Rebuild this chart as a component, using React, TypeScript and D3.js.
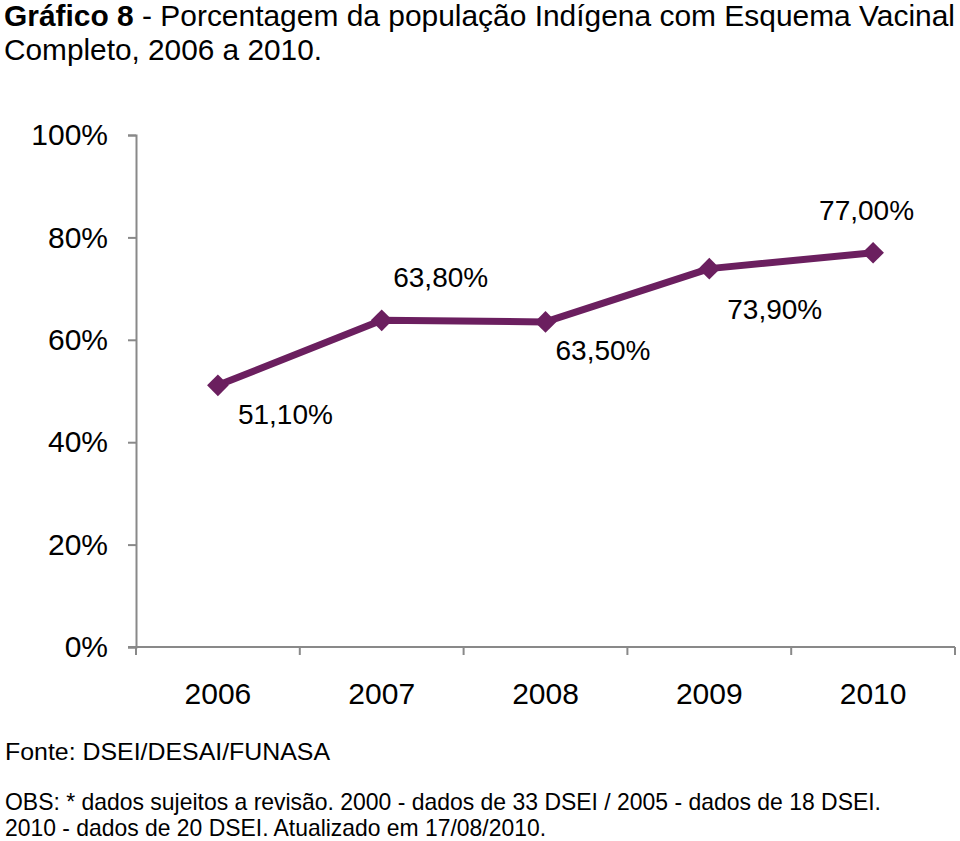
import React, { useEffect, useRef } from 'react';
import * as d3 from 'd3';

const years = ['2006', '2007', '2008', '2009', '2010'];
const coverage = [51.1, 63.8, 63.5, 73.9, 77.0];
const valueLabels = ['51,10%', '63,80%', '63,50%', '73,90%', '77,00%'];
const yTicks = [0, 20, 40, 60, 80, 100];

// label offsets relative to the point (dx, dy) and anchor
const labelPos = [
  { dx: 20, dy: 39, anchor: 'start' },
  { dx: 59, dy: -33, anchor: 'middle' },
  { dx: 10, dy: 38, anchor: 'start' },
  { dx: 18, dy: 50, anchor: 'start' },
  { dx: -54, dy: -33, anchor: 'start' },
];

const PURPLE = '#6b1f5f';
const SANS = '"Liberation Sans", Arial, sans-serif';

const App = () => {
  const svgRef = useRef<SVGSVGElement>(null);

  useEffect(() => {
    const svg = d3.select(svgRef.current);
    svg.selectAll('*').remove();

    const left = 136;
    const right = 955;
    const top = 135;
    const bottom = 647;

    const x = d3.scaleBand().domain(years).range([left, right]);
    const y = d3.scaleLinear().domain([0, 100]).range([bottom, top]);

    // title
    const title = svg.append('text')
      .attr('x', 4)
      .attr('y', 26)
      .attr('textLength', 951)
      .attr('lengthAdjust', 'spacingAndGlyphs')
      .style('font-family', SANS)
      .style('font-size', '30px')
      .attr('fill', '#000');
    title.append('tspan').style('font-weight', 'bold').text('Gráfico 8');
    title.append('tspan').text(' - Porcentagem da população Indígena com Esquema Vacinal');
    svg.append('text')
      .attr('x', 4)
      .attr('y', 60)
      .attr('textLength', 318)
      .attr('lengthAdjust', 'spacingAndGlyphs')
      .style('font-family', SANS)
      .style('font-size', '30px')
      .text('Completo, 2006 a 2010.');

    // y axis
    const gy = svg.append('g')
      .attr('transform', `translate(${left},0)`)
      .call(d3.axisLeft(y).tickValues(yTicks).tickSize(8).tickPadding(20).tickFormat(d => `${d}%`));
    gy.selectAll('text')
      .style('font-family', SANS)
      .style('font-size', '30px')
      .attr('fill', '#000');

    // x axis
    const gx = svg.append('g')
      .attr('transform', `translate(0,${bottom})`)
      .call(d3.axisBottom(x).tickSize(0).tickPadding(36));
    gx.selectAll('text')
      .style('font-family', SANS)
      .style('font-size', '30px')
      .attr('fill', '#000');
    gx.select('.domain').attr('d', `M${left - 8},0H${right}`);
    // category separators
    const edges = years.map(d => x(d) as number).concat([right]);
    gx.selectAll('.sep')
      .data(edges)
      .enter().append('line')
      .attr('class', 'sep')
      .attr('x1', d => d).attr('x2', d => d)
      .attr('y1', 0).attr('y2', 8);

    svg.selectAll('.domain, .tick line, .sep')
      .attr('stroke', '#898989')
      .attr('stroke-width', 2);

    const cx = (i: number) => (x(years[i]) as number) + x.bandwidth() / 2;

    // line
    const line = d3.line<number>()
      .x((_, i) => cx(i))
      .y(d => y(d));
    svg.append('path')
      .datum(coverage)
      .attr('fill', 'none')
      .attr('stroke', PURPLE)
      .attr('stroke-width', 7)
      .attr('stroke-linejoin', 'round')
      .attr('d', line);

    // diamond markers
    const diamond = d3.symbol().type(d3.symbolDiamond2).size(300);
    svg.selectAll('.marker')
      .data(coverage)
      .enter().append('path')
      .attr('class', 'marker')
      .attr('transform', (d, i) => `translate(${cx(i)},${y(d)})`)
      .attr('d', diamond)
      .attr('fill', PURPLE);

    // value labels
    svg.selectAll('.vlabel')
      .data(coverage)
      .enter().append('text')
      .attr('class', 'vlabel')
      .attr('x', (d, i) => cx(i) + labelPos[i].dx)
      .attr('y', (d, i) => y(d) + labelPos[i].dy)
      .attr('text-anchor', (d, i) => labelPos[i].anchor)
      .style('font-family', SANS)
      .style('font-size', '28px')
      .attr('fill', '#000')
      .text((d, i) => valueLabels[i]);

    // footer
    const foot = [
      { text: 'Fonte: DSEI/DESAI/FUNASA', y: 760, w: 325 },
      { text: 'OBS: * dados sujeitos a revisão. 2000 - dados de 33 DSEI / 2005 - dados de 18 DSEI.', y: 810, w: 876 },
      { text: '2010 - dados de 20 DSEI. Atualizado em 17/08/2010.', y: 836, w: 541 },
    ];
    svg.selectAll('.foot')
      .data(foot)
      .enter().append('text')
      .attr('class', 'foot')
      .attr('x', 5)
      .attr('y', d => d.y)
      .attr('textLength', d => d.w)
      .attr('lengthAdjust', 'spacingAndGlyphs')
      .style('font-family', SANS)
      .style('font-size', '24px')
      .attr('fill', '#000')
      .text(d => d.text);
  }, []);

  return (
    <svg
      ref={svgRef}
      width={960}
      height={841}
      style={{ position: 'absolute', left: 0, top: 0, background: '#fff' }}
    />
  );
};

export default App;
